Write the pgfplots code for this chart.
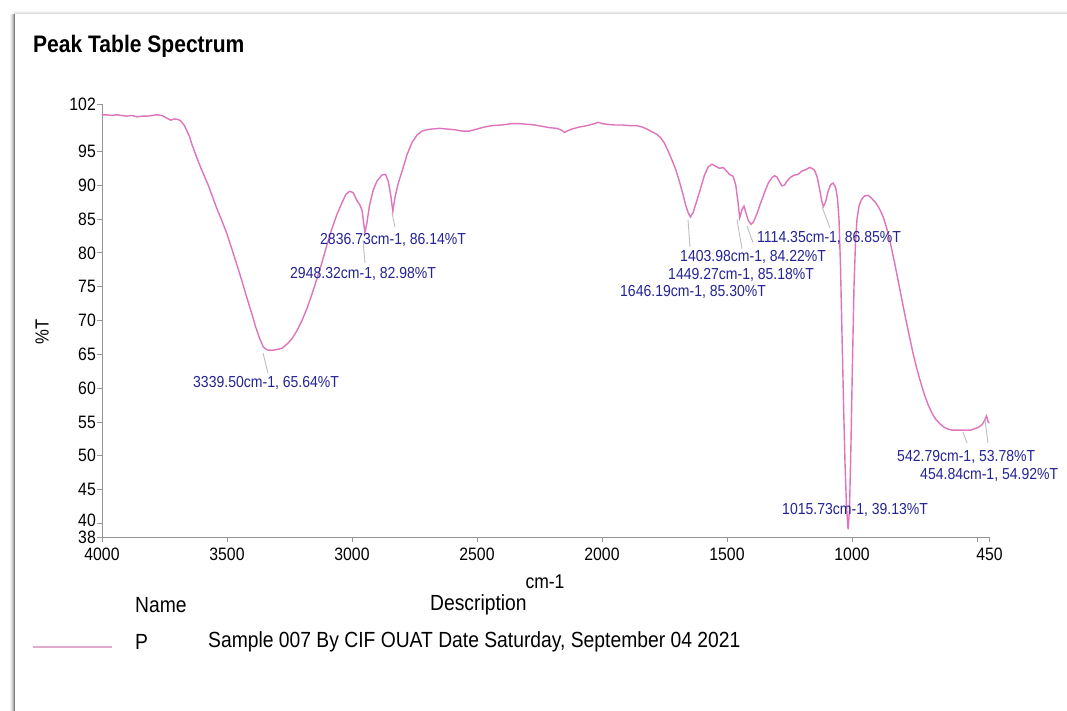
\documentclass[border=0pt]{standalone}
\usepackage{pgfplots}
\pgfplotsset{compat=1.18}
\usepackage{pgfplotstable}
\usepackage{fontspec}
\setmainfont{Liberation Sans}[FakeStretch=0.88]

\definecolor{spec}{RGB}{222,116,188}
\definecolor{speclight}{RGB}{226,170,205}
\definecolor{peakblue}{RGB}{36,36,150}
\definecolor{leader}{RGB}{190,190,190}
\definecolor{axisgray}{RGB}{150,150,150}

\newcommand{\fs}[1]{\fontsize{#1}{#1}\selectfont}

% FTIR transmittance spectrum: wavenumber (cm-1) vs %T
\pgfplotstableread{
wn      T
4000    100.4
3980    100.4
3960    100.3
3940    100.4
3920    100.3
3900    100.2
3880    100.3
3860    100.1
3840    100.2
3820    100.2
3800    100.3
3780    100.4
3760    100.3
3740    99.9
3725    99.6
3710    99.8
3695    99.7
3685    99.5
3670    98.8
3660    98.0
3650    97.2
3640    96.0
3630    95.0
3620    94.0
3605    92.6
3590    91.3
3575    90.0
3560    88.5
3540    86.5
3520    84.7
3500    82.8
3480    80.5
3460    78.2
3440    75.8
3420    73.3
3400    70.9
3385    69.0
3370    67.4
3355    66.1
3339.5  65.64
3320    65.6
3300    65.7
3280    65.9
3260    66.5
3240    67.3
3220    68.5
3200    70.0
3180    71.8
3160    73.9
3140    76.2
3120    78.6
3100    81.2
3080    83.6
3060    85.7
3040    87.4
3025    88.6
3010    89.1
2995    88.9
2980    87.7
2970    87.2
2960    86.3
2948.32 82.98
2940    84.5
2930    87.0
2915    89.3
2900    90.6
2880    91.5
2866    91.6
2855    90.6
2845    88.5
2836.73 86.14
2828    88.2
2815    90.3
2800    92.0
2780    94.5
2760    96.3
2740    97.4
2720    98.0
2700    98.2
2680    98.3
2650    98.4
2620    98.3
2590    98.2
2560    98.0
2530    98.0
2500    98.3
2470    98.6
2440    98.8
2400    98.9
2360    99.1
2330    99.1
2300    99.0
2270    98.9
2240    98.7
2210    98.5
2180    98.4
2160    98.1
2150    97.8
2140    98.0
2120    98.3
2090    98.6
2060    98.8
2030    99.1
2015    99.3
2000    99.1
1980    99.0
1950    98.9
1920    98.9
1890    98.8
1860    98.8
1840    98.6
1820    98.3
1800    97.9
1780    97.5
1765    97.0
1750    96.2
1735    95.0
1720    93.7
1705    92.3
1690    90.5
1675    88.5
1665    87.0
1655    85.9
1646.19 85.30
1635    86.0
1620    87.8
1605    89.6
1590    91.5
1575    92.7
1560    93.1
1545    92.8
1530    92.5
1515    92.6
1500    92.0
1490    91.6
1475    91.3
1465    90.0
1457    87.8
1449.27 85.18
1440    86.4
1432    86.9
1425    86.0
1415    84.8
1403.98 84.22
1395    84.5
1380    85.8
1365    87.4
1350    88.9
1335    90.3
1320    91.1
1310    91.4
1300    91.2
1290    90.5
1280    89.9
1270    90.0
1260    90.6
1245    91.2
1230    91.5
1215    91.6
1200    92.1
1185    92.3
1170    92.6
1160    92.5
1150    92.2
1140    91.3
1130    89.5
1120    87.5
1114.35 86.85
1105    87.6
1095    89.2
1085    90.1
1075    90.3
1065    89.6
1058    88.0
1052    85.0
1046    78.0
1040    68.0
1034    58.0
1028    49.0
1022    42.5
1015.73 39.13
1010    42.0
1004    52.0
998     64.0
992     75.0
986     81.5
980     85.0
972     86.9
962     87.9
950     88.4
935     88.5
920     88.0
905     87.4
890     86.5
875     85.3
860     83.5
845     81.2
830     78.6
815     75.8
800     73.0
785     70.2
770     67.6
755     65.0
740     62.8
725     60.8
710     59.0
695     57.5
680     56.3
665     55.4
650     54.8
635     54.3
620     54.0
600     53.8
580     53.8
560     53.8
542.79  53.78
525     53.8
510     54.0
495     54.2
480     54.6
470     55.2
462     55.9
458     55.4
454.84  54.92
450     54.9
}\spectrum

\begin{document}
\begin{tikzpicture}[x=1bp,y=1bp]
\useasboundingbox (0,0) rectangle (1067,711);
\fill[white] (0,0) rectangle (1067,711);

% panel edge with soft shadow: darker down the left side, faint along the top
\foreach \o/\c in {4/5,3/10,2/18,1/32,0/50} {
  \draw[black!\c, line width=1bp] (14-\o,0) -- (14-\o,697);
}
\foreach \o/\c in {2/4,1/8,0/14} {
  \draw[black!\c, line width=1bp] (14,697+\o) -- (1067,697+\o);
}
\fill[white] (15,0) rectangle (1067,696.5);

\begin{axis}[
  at={(102bp,174bp)}, anchor=south west,
  scale only axis, width=887.5bp, height=433bp,
  x dir=reverse, xmin=450, xmax=4000, ymin=38, ymax=102,
  axis x line*=bottom, axis y line*=left,
  axis line style={axisgray, line width=0.9bp},
  tick style={axisgray, line width=0.9bp},
  tick align=outside, major tick length=5bp,
  xtick={4000,3500,3000,2500,2000,1500,1000,500,450},
  xticklabels={4000,3500,3000,2500,2000,1500,1000,{},450},
  ytick={38,40,45,50,55,60,65,70,75,80,85,90,95,102},
  yticklabels={38,\raisebox{7bp}{40},45,50,55,60,65,70,75,80,85,90,95,102},
  xticklabel style={font=\fs{18}, inner sep=6bp},
  yticklabel style={font=\fs{18}, inner sep=1bp},
  clip=false,
]
\addplot[spec, line width=1.4bp] table[x=wn, y=T] {\spectrum};

% leader lines from peaks to their labels
\begin{scope}[leader, line width=0.9bp]
\draw (axis cs:3356,65.2) -- (axis cs:3336,62.2);
\draw (axis cs:2956,81.9) -- (axis cs:2948,78.5);
\draw (axis cs:2840,85.9) -- (axis cs:2828,83.8);
\draw (axis cs:1656,84.9) -- (axis cs:1648,80.9);
\draw (axis cs:1460,84.9) -- (axis cs:1440,80.6);
\draw (axis cs:1420,84.0) -- (axis cs:1396,81.5);
\draw (axis cs:1120,86.8) -- (axis cs:1088,83.7);
\draw (axis cs:556,53.5) -- (axis cs:540,51.9);
\draw (axis cs:468,55.3) -- (axis cs:456,51.9);
\end{scope}

% peak labels
\begin{scope}[every node/.style={anchor=west, inner sep=0pt, font=\fs{16}, text=peakblue}]
\node at (axis cs:3128,81.90) {2836.73cm-1, 86.14\%T};
\node at (axis cs:3248,76.87) {2948.32cm-1, 82.98\%T};
\node at (axis cs:3636,60.76) {3339.50cm-1, 65.64\%T};
\node at (axis cs:1380,82.20) {1114.35cm-1, 86.85\%T};
\node at (axis cs:1688,79.39) {1403.98cm-1, 84.22\%T};
\node at (axis cs:1736,76.73) {1449.27cm-1, 85.18\%T};
\node at (axis cs:1928,74.21) {1646.19cm-1, 85.30\%T};
\node at (axis cs:820,49.83) {542.79cm-1, 53.78\%T};
\node at (axis cs:728,47.17) {454.84cm-1, 54.92\%T};
\node at (axis cs:1280,42.00) {1015.73cm-1, 39.13\%T};
\end{scope}
\end{axis}

% title and axis titles
\node[anchor=west, inner sep=0pt, font=\bfseries\fs{24}] at (33,665) {Peak Table Spectrum};
\node[rotate=90, inner sep=0pt, font=\fs{19}] at (42,379) {\%T};
\node[inner sep=0pt, font=\fs{20}] at (545,129) {cm-1};

% legend table
\node[anchor=west, inner sep=0pt, font=\fs{22}] at (135,106) {Name};
\node[anchor=west, inner sep=0pt, font=\fs{22}] at (430,106) {Description};
\draw[speclight, line width=1.5bp] (33,64) -- (112,64);
\node[anchor=west, inner sep=0pt, font=\fs{22}] at (135,69) {P};
\node[anchor=west, inner sep=0pt, font=\fs{22}] at (208,69) {Sample 007 By CIF OUAT Date Saturday, September 04 2021};
\end{tikzpicture}
\end{document}
